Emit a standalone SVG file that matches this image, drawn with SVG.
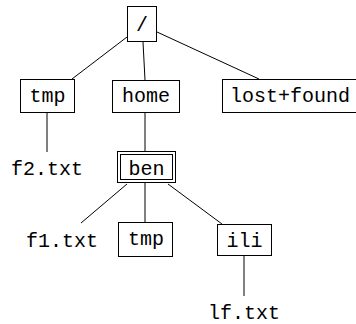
<svg xmlns="http://www.w3.org/2000/svg" width="356" height="324" viewBox="0 0 356 324">
  <style>
    .box { fill: #fff; stroke: #000; stroke-width: 1; }
    .edge { stroke: #000; stroke-width: 1; fill: none; }
    text { font-family: "Liberation Mono", "DejaVu Sans Mono", monospace; font-size: 20px; fill: #000; text-anchor: middle; }
  </style>
  <rect width="356" height="324" fill="#fff"/>
  <g id="connectors">
    <line class="edge" x1="127" y1="37" x2="72" y2="79"/>
    <line class="edge" x1="143" y1="42" x2="145" y2="80"/>
    <line class="edge" x1="157" y1="32" x2="259" y2="79"/>
    <line class="edge" x1="47" y1="113" x2="47" y2="152"/>
    <line class="edge" x1="145" y1="113" x2="145" y2="151"/>
    <line class="edge" x1="127" y1="184" x2="81" y2="223"/>
    <line class="edge" x1="145" y1="182" x2="145" y2="222"/>
    <line class="edge" x1="168" y1="184" x2="222" y2="224"/>
    <line class="edge" x1="244" y1="255" x2="244" y2="296"/>
  </g>
  <g id="root">
    <rect class="box" x="127.5" y="6.5" width="29" height="35"/>
    <text x="142" y="31">/</text>
  </g>
  <g id="tmp">
    <rect class="box" x="20.5" y="79.5" width="54" height="33"/>
    <text x="47.5" y="102">tmp</text>
  </g>
  <g id="home">
    <rect class="box" x="112.5" y="80.5" width="67" height="32"/>
    <text x="146" y="102">home</text>
  </g>
  <g id="lost_found">
    <rect class="box" x="222.5" y="79.5" width="134" height="33"/>
    <text x="290" y="102">lost+found</text>
  </g>
  <g id="f2_txt">
    <text x="47" y="175">f2.txt</text>
  </g>
  <g id="ben">
    <rect class="box" x="117.5" y="151.5" width="58" height="31"/>
    <rect class="box" x="120.5" y="154.5" width="52" height="25"/>
    <text x="146.5" y="175">ben</text>
  </g>
  <g id="f1_txt">
    <text x="62" y="247">f1.txt</text>
  </g>
  <g id="ben_tmp">
    <rect class="box" x="118.5" y="222.5" width="54" height="34"/>
    <text x="146" y="245">tmp</text>
  </g>
  <g id="ili">
    <rect class="box" x="217.5" y="224.5" width="54" height="31"/>
    <text x="244.5" y="247">ili</text>
  </g>
  <g id="lf_txt">
    <text x="244" y="319">lf.txt</text>
  </g>
</svg>
